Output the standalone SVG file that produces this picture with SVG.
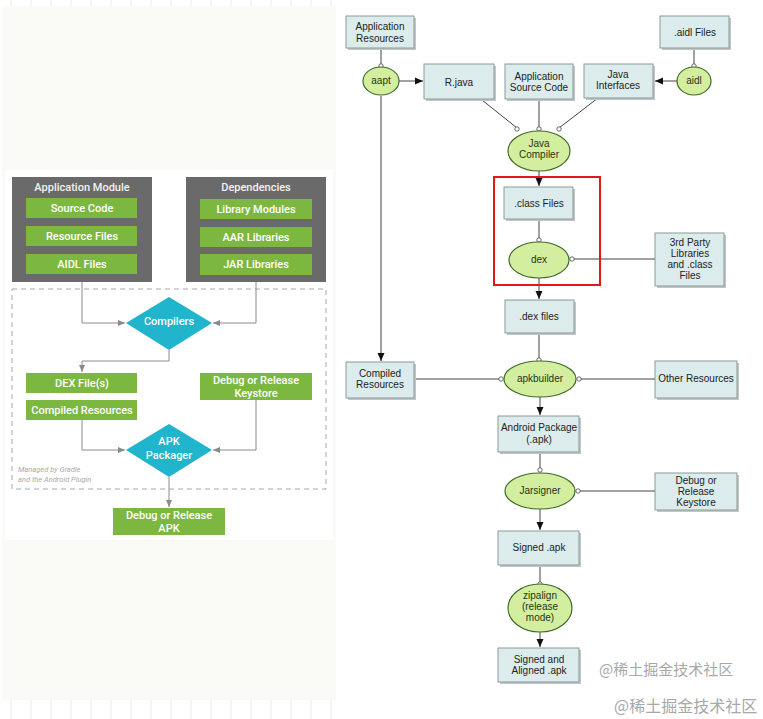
<svg xmlns="http://www.w3.org/2000/svg" width="763" height="719" viewBox="0 0 763 719">
<style>
.gbox{fill:#6a6a6a}
.gtitle{font-family:Roboto,"Liberation Sans",sans-serif;font-size:11px;font-weight:500;fill:#f2f2f2;text-anchor:middle}
.grn{fill:#7cb83f}
.gt{font-family:Roboto,"Liberation Sans",sans-serif;font-size:11px;font-weight:500;fill:#ffffff;text-anchor:middle}
.dia{fill:#20b5cc}
.ln{fill:none;stroke:#8a8a8a;stroke-width:1}
.rl{fill:none;stroke:#444;stroke-width:1}
.box{fill:#dcecec;stroke:#8a9a9a;stroke-width:1}
.sh{fill:#c2c6c6}
.ell{fill:#d3ee9f;stroke:#3f6a2a;stroke-width:1.2}
.t{font-family:"Liberation Sans",Arial,sans-serif;font-size:10px;fill:#222;text-anchor:middle}
.et{font-family:"Liberation Sans",Arial,sans-serif;font-size:10px;fill:#1f3514;text-anchor:middle}
.oc{fill:#fff;stroke:#444;stroke-width:0.8}
.wm{font-family:"Noto Sans CJK SC","Liberation Sans",sans-serif;fill:#a8a8a8}
</style>
<defs>
<marker id="ga" markerWidth="8" markerHeight="8" refX="7" refY="4" orient="auto" markerUnits="userSpaceOnUse"><path d="M0,1 L7,4 L0,7 z" fill="#8a8a8a"/></marker>
<marker id="ba" markerWidth="9" markerHeight="9" refX="8" refY="4.5" orient="auto" markerUnits="userSpaceOnUse"><path d="M0,1 L8,4.5 L0,8 z" fill="#111"/></marker>
</defs>
<rect width="763" height="719" fill="#ffffff"/>
<g id="grid" stroke="#ececec" stroke-width="1">
<path d="M11,0V6M31,0V6M51,0V6M71,0V6M91,0V6M111,0V6M131,0V6M151,0V6M171,0V6M191,0V6M211,0V6M231,0V6M251,0V6M271,0V6M291,0V6M311,0V6M331,0V6"/>
<path d="M11,700V719M31,700V719M51,700V719M71,700V719M91,700V719M111,700V719M131,700V719M151,700V719M171,700V719M191,700V719M211,700V719M231,700V719M251,700V719M271,700V719M291,700V719M311,700V719M331,700V719"/>
</g>
<rect x="2" y="6" width="334" height="694" fill="#fafaf7"/>
<rect x="5" y="170" width="328" height="370" fill="#ffffff"/>

<!-- LEFT PANEL -->
<g id="app-module">
<rect class="gbox" x="12" y="177" width="140" height="105"/>
<text class="gtitle" x="82" y="191">Application Module</text>
</g>
<g id="source-code"><rect class="grn" x="26" y="198" width="111" height="20"/><text class="gt" x="82" y="212">Source Code</text></g>
<g id="resource-files"><rect class="grn" x="26" y="226" width="111" height="20"/><text class="gt" x="82" y="240">Resource Files</text></g>
<g id="aidl-files-l"><rect class="grn" x="26" y="254" width="111" height="20"/><text class="gt" x="82" y="268">AIDL Files</text></g>
<g id="dependencies">
<rect class="gbox" x="186" y="177" width="140" height="105"/>
<text class="gtitle" x="256" y="191">Dependencies</text>
</g>
<g id="library-modules"><rect class="grn" x="200" y="199" width="112" height="20"/><text class="gt" x="256" y="213">Library Modules</text></g>
<g id="aar-libraries"><rect class="grn" x="200" y="227" width="112" height="20"/><text class="gt" x="256" y="241">AAR Libraries</text></g>
<g id="jar-libraries"><rect class="grn" x="200" y="254" width="112" height="21"/><text class="gt" x="256" y="268">JAR Libraries</text></g>
<g id="gradle-boundary">
<rect x="12" y="289" width="314" height="200" fill="none" stroke="#a8a8a8" stroke-width="1" stroke-dasharray="5,4"/>
<text x="18" y="472" font-family="Roboto,'Liberation Sans',sans-serif" font-size="7.5" font-style="italic" fill="#aaaaaa">Managed by Gradle</text>
<text x="18" y="482" font-family="Roboto,'Liberation Sans',sans-serif" font-size="7.5" font-style="italic" fill="#aaaaaa">and the Android Plugin</text>
</g>
<g id="compilers"><polygon class="dia" points="169,297 212,323 169,350 126,323"/><text class="gt" x="169" y="325">Compilers</text></g>
<g id="dex-files-l"><rect class="grn" x="26" y="373" width="111" height="20"/><text class="gt" x="82" y="387">DEX File(s)</text></g>
<g id="compiled-resources-l"><rect class="grn" x="26" y="400" width="111" height="20"/><text class="gt" x="82" y="414">Compiled Resources</text></g>
<g id="keystore-l"><rect class="grn" x="200" y="373" width="112" height="27"/><text class="gt" x="256" y="384">Debug or Release</text><text class="gt" x="256" y="397">Keystore</text></g>
<g id="apk-packager"><polygon class="dia" points="169,424 212,450 169,477 126,450"/><text class="gt" x="169" y="445">APK</text><text class="gt" x="169" y="459">Packager</text></g>
<g id="release-apk"><rect class="grn" x="113" y="508" width="112" height="27"/><text class="gt" x="169" y="519">Debug or Release</text><text class="gt" x="169" y="532">APK</text></g>

<g id="left-connectors">
<path class="ln" d="M82,282V323H125" marker-end="url(#ga)"/>
<path class="ln" d="M256,282V323H213" marker-end="url(#ga)"/>
<path class="ln" d="M169,350V361H82V372" marker-end="url(#ga)"/>
<path class="ln" d="M82,420V450H125" marker-end="url(#ga)"/>
<path class="ln" d="M256,400V450H213" marker-end="url(#ga)"/>
<path class="ln" d="M169,477V507" marker-end="url(#ga)"/>
</g>

<!-- RIGHT PANEL connectors -->
<g id="connectors">
<path class="rl" d="M381,48V78"/>
<path class="rl" d="M694,48V78"/>
<path class="rl" d="M399,81H423" marker-end="url(#ba)"/>
<path class="rl" d="M677,81H655" marker-end="url(#ba)"/>
<path class="rl" d="M381,96V361" marker-end="url(#ba)"/>
<path class="rl" d="M482,100L517,128"/>
<path class="rl" d="M539,100V129"/>
<path class="rl" d="M598,98L559,128"/>
<path class="rl" d="M539,171V186" marker-end="url(#ba)"/>
<path class="rl" d="M539,219V240"/>
<path class="rl" d="M572,259H655"/>
<path class="rl" d="M539,278V299" marker-end="url(#ba)"/>
<path class="rl" d="M539,333V360"/>
<path class="rl" d="M414,379H501"/>
<path class="rl" d="M579,379H655"/>
<path class="rl" d="M540,397V415" marker-end="url(#ba)"/>
<path class="rl" d="M540,452V470"/>
<path class="rl" d="M578,491H655"/>
<path class="rl" d="M540,509V530" marker-end="url(#ba)"/>
<path class="rl" d="M540,565V584"/>
<path class="rl" d="M540,632V647" marker-end="url(#ba)"/>
<circle class="oc" cx="381" cy="66" r="2.2"/>
<circle class="oc" cx="694" cy="66" r="2.2"/>
<circle class="oc" cx="517" cy="129" r="2.2"/>
<circle class="oc" cx="539" cy="129" r="2.2"/>
<circle class="oc" cx="559" cy="129" r="2.2"/>
<circle class="oc" cx="539" cy="240" r="2.2"/>
<circle class="oc" cx="572" cy="259" r="2.2"/>
<circle class="oc" cx="539" cy="360" r="2.2"/>
<circle class="oc" cx="501" cy="379" r="2.2"/>
<circle class="oc" cx="579" cy="379" r="2.2"/>
<circle class="oc" cx="540" cy="470" r="2.2"/>
<circle class="oc" cx="578" cy="491" r="2.2"/>
<circle class="oc" cx="540" cy="584" r="2.2"/>
</g>

<g id="app-resources"><rect class="sh" x="348" y="18" width="68" height="32"/><rect class="box" x="346" y="16" width="68" height="32"/><text class="t" x="380" y="30">Application</text><text class="t" x="380" y="42">Resources</text></g>
<g id="aapt"><ellipse class="ell" cx="381" cy="81" rx="18" ry="14"/><text class="et" x="381" y="84">aapt</text></g>
<g id="r-java"><rect class="sh" x="426" y="66" width="70" height="35"/><rect class="box" x="424" y="64" width="70" height="35"/><text class="t" x="459" y="86">R.java</text></g>
<g id="app-source"><rect class="sh" x="507" y="66" width="68" height="35"/><rect class="box" x="505" y="64" width="68" height="35"/><text class="t" x="539" y="80">Application</text><text class="t" x="539" y="91">Source Code</text></g>
<g id="java-interfaces"><rect class="sh" x="586" y="66" width="69" height="34"/><rect class="box" x="584" y="64" width="69" height="34"/><text class="t" x="618" y="78">Java</text><text class="t" x="618" y="89">Interfaces</text></g>
<g id="aidl-files"><rect class="sh" x="662" y="18" width="69" height="32"/><rect class="box" x="660" y="16" width="69" height="32"/><text class="t" x="695" y="36">.aidl Files</text></g>
<g id="aidl"><ellipse class="ell" cx="694" cy="81" rx="17" ry="14"/><text class="et" x="694" y="84">aidl</text></g>
<g id="java-compiler"><ellipse class="ell" cx="539" cy="151" rx="31" ry="20"/><text class="et" x="539" y="147">Java</text><text class="et" x="539" y="158">Compiler</text></g>
<g id="highlight"><rect x="494" y="177" width="106" height="108" fill="none" stroke="#e01818" stroke-width="2"/></g>
<g id="class-files"><rect class="sh" x="506" y="189" width="69" height="32"/><rect class="box" x="504" y="187" width="69" height="32"/><text class="t" x="539" y="207">.class Files</text></g>
<g id="dex"><ellipse class="ell" cx="539" cy="260" rx="30" ry="18"/><text class="et" x="539" y="263">dex</text></g>
<g id="third-party"><rect class="sh" x="657" y="235" width="69" height="53"/><rect class="box" x="655" y="233" width="69" height="53"/><text class="t" x="690" y="246">3rd Party</text><text class="t" x="690" y="257">Libraries</text><text class="t" x="690" y="268">and .class</text><text class="t" x="690" y="279">Files</text></g>
<g id="dex-files"><rect class="sh" x="507" y="302" width="69" height="33"/><rect class="box" x="505" y="300" width="69" height="33"/><text class="t" x="539" y="320">.dex files</text></g>
<g id="compiled-resources"><rect class="sh" x="348" y="364" width="68" height="36"/><rect class="box" x="346" y="362" width="68" height="36"/><text class="t" x="380" y="377">Compiled</text><text class="t" x="380" y="388">Resources</text></g>
<g id="apkbuilder"><ellipse class="ell" cx="540" cy="379" rx="36" ry="18"/><text class="et" x="540" y="382">apkbuilder</text></g>
<g id="other-resources"><rect class="sh" x="657" y="363" width="82" height="37"/><rect class="box" x="655" y="361" width="82" height="37"/><text class="t" x="696" y="382">Other Resources</text></g>
<g id="android-package"><rect class="sh" x="500" y="418" width="81" height="36"/><rect class="box" x="498" y="416" width="81" height="36"/><text class="t" x="539" y="431">Android Package</text><text class="t" x="539" y="443">(.apk)</text></g>
<g id="jarsigner"><ellipse class="ell" cx="540" cy="491" rx="35" ry="18"/><text class="et" x="540" y="494">Jarsigner</text></g>
<g id="keystore"><rect class="sh" x="657" y="475" width="82" height="37"/><rect class="box" x="655" y="473" width="82" height="37" stroke="#333"/><text class="t" x="696" y="484">Debug or</text><text class="t" x="696" y="495">Release</text><text class="t" x="696" y="506">Keystore</text></g>
<g id="signed-apk"><rect class="sh" x="500" y="533" width="81" height="34"/><rect class="box" x="498" y="531" width="81" height="34"/><text class="t" x="539" y="551">Signed .apk</text></g>
<g id="zipalign"><ellipse class="ell" cx="540" cy="608" rx="32" ry="24"/><text class="et" x="540" y="599">zipalign</text><text class="et" x="540" y="610">(release</text><text class="et" x="540" y="621">mode)</text></g>
<g id="signed-aligned"><rect class="sh" x="500" y="650" width="81" height="34"/><rect class="box" x="498" y="648" width="81" height="34"/><text class="t" x="539" y="663">Signed and</text><text class="t" x="539" y="674">Aligned .apk</text></g>

<g id="watermarks">
<text class="wm" x="599" y="675" font-size="15">@稀土掘金技术社区</text>
<text class="wm" x="614" y="712" font-size="16">@稀土掘金技术社区</text>
</g>
</svg>
